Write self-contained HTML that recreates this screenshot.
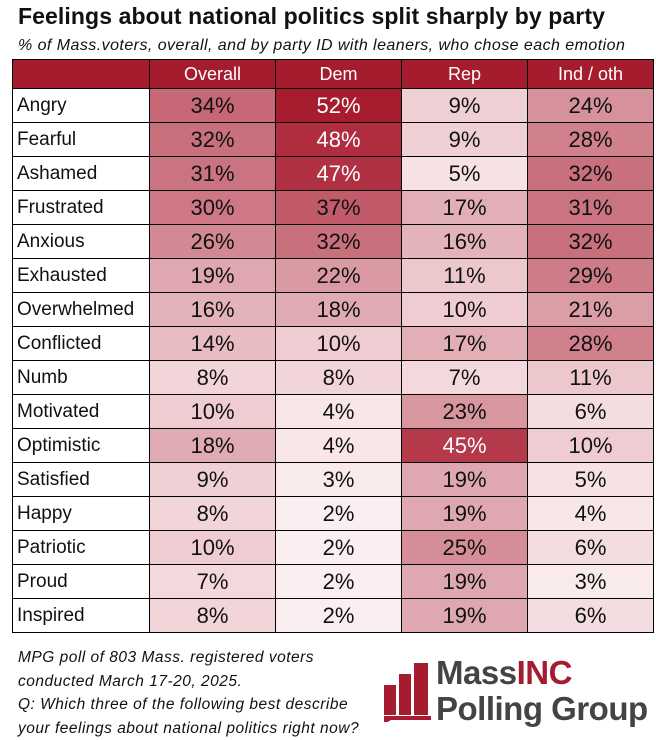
<!DOCTYPE html>
<html><head><meta charset="utf-8"><style>
body{margin:0;width:656px;height:736px;background:#fff;font-family:"Liberation Sans",sans-serif;position:relative;overflow:hidden}
.t{position:absolute;left:18px;top:3px;font-size:23px;font-weight:bold;color:#111;letter-spacing:0.1px}
.s{position:absolute;left:18px;top:37px;font-size:16px;font-style:italic;color:#111;letter-spacing:0.45px}
table{position:absolute;left:12px;top:59px;border-collapse:collapse}
td{border:1px solid #000;height:33px;padding:0;font-size:22px;text-align:center;color:#111}
td:first-child{text-align:left;padding-left:4px;font-size:19px;width:132px}
td.c{width:125px}
tr.h td{background:#a51c2f;color:#fff;font-size:18px;height:28px}
.f{position:absolute;left:18px;top:646px;font-size:15.5px;font-style:italic;line-height:23.5px;color:#111;letter-spacing:0.5px}
.logo{position:absolute;left:383px;top:660px}
.m{position:absolute;left:436px;top:655px;font-size:33px;font-weight:bold;color:#444;letter-spacing:-0.5px;line-height:36px}
.m b{color:#a51c2f}
</style></head><body>
<div class="t">Feelings about national politics split sharply by party</div>
<div class="s">% of Mass.voters, overall, and by party ID with leaners, who chose each emotion</div>
<table id="tb">
<tr class="h"><td></td><td class="c">Overall</td><td class="c">Dem</td><td class="c">Rep</td><td class="c">Ind / oth</td></tr>
<tr><td>Angry</td><td class="c">34%</td><td class="c">52%</td><td class="c">9%</td><td class="c">24%</td></tr>
<tr><td>Fearful</td><td class="c">32%</td><td class="c">48%</td><td class="c">9%</td><td class="c">28%</td></tr>
<tr><td>Ashamed</td><td class="c">31%</td><td class="c">47%</td><td class="c">5%</td><td class="c">32%</td></tr>
<tr><td>Frustrated</td><td class="c">30%</td><td class="c">37%</td><td class="c">17%</td><td class="c">31%</td></tr>
<tr><td>Anxious</td><td class="c">26%</td><td class="c">32%</td><td class="c">16%</td><td class="c">32%</td></tr>
<tr><td>Exhausted</td><td class="c">19%</td><td class="c">22%</td><td class="c">11%</td><td class="c">29%</td></tr>
<tr><td>Overwhelmed</td><td class="c">16%</td><td class="c">18%</td><td class="c">10%</td><td class="c">21%</td></tr>
<tr><td>Conflicted</td><td class="c">14%</td><td class="c">10%</td><td class="c">17%</td><td class="c">28%</td></tr>
<tr><td>Numb</td><td class="c">8%</td><td class="c">8%</td><td class="c">7%</td><td class="c">11%</td></tr>
<tr><td>Motivated</td><td class="c">10%</td><td class="c">4%</td><td class="c">23%</td><td class="c">6%</td></tr>
<tr><td>Optimistic</td><td class="c">18%</td><td class="c">4%</td><td class="c">45%</td><td class="c">10%</td></tr>
<tr><td>Satisfied</td><td class="c">9%</td><td class="c">3%</td><td class="c">19%</td><td class="c">5%</td></tr>
<tr><td>Happy</td><td class="c">8%</td><td class="c">2%</td><td class="c">19%</td><td class="c">4%</td></tr>
<tr><td>Patriotic</td><td class="c">10%</td><td class="c">2%</td><td class="c">25%</td><td class="c">6%</td></tr>
<tr><td>Proud</td><td class="c">7%</td><td class="c">2%</td><td class="c">19%</td><td class="c">3%</td></tr>
<tr><td>Inspired</td><td class="c">8%</td><td class="c">2%</td><td class="c">19%</td><td class="c">6%</td></tr>
</table>
<div class="f">MPG poll of 803 Mass. registered voters<br>conducted March 17-20, 2025.<br>Q: Which three of the following best describe<br>your feelings about national politics right now?</div>
<svg class="logo" width="52" height="62" viewBox="0 0 52 62">
<rect x="1" y="25" width="12" height="30" fill="#a51c2f"/>
<rect x="16" y="14" width="12" height="41" fill="#a51c2f"/>
<rect x="31" y="3" width="14" height="52" fill="#a51c2f"/>
<polygon points="1,56 48,56 48,60 8,60 1,64" fill="#a51c2f"/>
</svg>
<div class="m">Mass<b>INC</b><br>Polling Group</div>
<script>
document.querySelectorAll('#tb tr:not(.h) td.c').forEach(function(td){
var v=parseFloat(td.textContent);var t=Math.max(0,Math.min(1,(v-2)/50));
var r=Math.round(251-t*(251-168)),g=Math.round(238-t*(238-28)),b=Math.round(240-t*(240-48));
td.style.background='rgb('+r+','+g+','+b+')';if(t>0.8)td.style.color='#fff';});
</script>
</body></html>
